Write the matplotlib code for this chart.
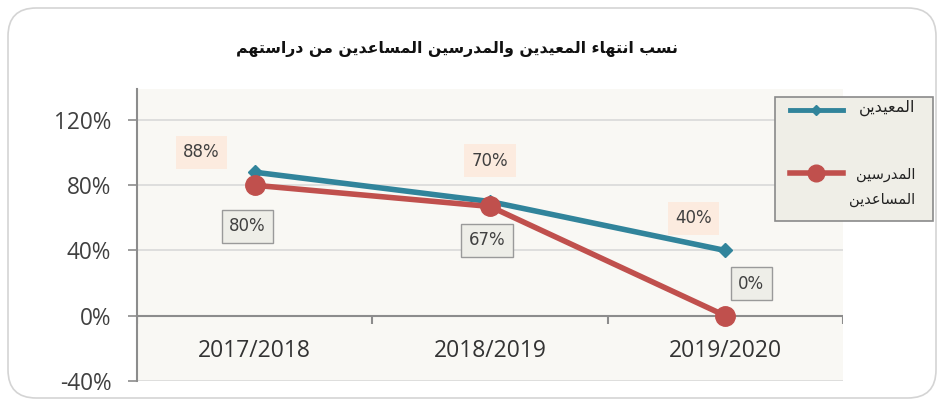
import matplotlib
matplotlib.use("Agg")
import matplotlib.pyplot as plt
from matplotlib.patches import FancyBboxPatch, Rectangle
from matplotlib.lines import Line2D

# ---------------- data ----------------
categories = ["2017/2018", "2018/2019", "2019/2020"]
series_names = ["المعيدين", "المدرسين\nالمساعدين"]
demonstrators = [0.88, 0.70, 0.40]
assistant_lecturers = [0.80, 0.67, 0.00]
y_ticks = [-0.4, 0.0, 0.4, 0.8, 1.2]
y_tick_labels = ["-40%", "0%", "40%", "80%", "120%"]
title = "نسب انتهاء المعيدين والمدرسين المساعدين من دراستهم"

# ---------------- simple Arabic shaping (presentation forms) ----------------
FORMS = {  # isolated, final, initial, medial
    "ا": ("\uFE8D", "\uFE8E", None, None),
    "ب": ("\uFE8F", "\uFE90", "\uFE91", "\uFE92"),
    "ت": ("\uFE95", "\uFE96", "\uFE97", "\uFE98"),
    "د": ("\uFEA9", "\uFEAA", None, None),
    "ر": ("\uFEAD", "\uFEAE", None, None),
    "س": ("\uFEB1", "\uFEB2", "\uFEB3", "\uFEB4"),
    "ع": ("\uFEC9", "\uFECA", "\uFECB", "\uFECC"),
    "ل": ("\uFEDD", "\uFEDE", "\uFEDF", "\uFEE0"),
    "م": ("\uFEE1", "\uFEE2", "\uFEE3", "\uFEE4"),
    "ن": ("\uFEE5", "\uFEE6", "\uFEE7", "\uFEE8"),
    "ه": ("\uFEE9", "\uFEEA", "\uFEEB", "\uFEEC"),
    "و": ("\uFEED", "\uFEEE", None, None),
    "ي": ("\uFEF1", "\uFEF2", "\uFEF3", "\uFEF4"),
    "ء": ("\uFE80", None, None, None),
}


def dual(c):
    return c in FORMS and FORMS[c][2] is not None


def joining(c):
    return c in FORMS and FORMS[c][1] is not None


def shape_line(s):
    out = []
    for i, c in enumerate(s):
        if c not in FORMS:
            out.append(c)
            continue
        prev = s[i - 1] if i > 0 else ""
        nxt = s[i + 1] if i + 1 < len(s) else ""
        jp = dual(prev) and joining(c)
        jn = dual(c) and joining(nxt)
        iso, fin, ini, med = FORMS[c]
        if jp and jn:
            out.append(med)
        elif jp:
            out.append(fin)
        elif jn:
            out.append(ini)
        else:
            out.append(iso)
    return "".join(out)[::-1]


def ar(s):
    return "\n".join(shape_line(line) for line in s.split("\n"))


# ---------------- figure ----------------
W, H = 940, 405
fig = plt.figure(figsize=(W / 100, H / 100), dpi=100)
fig.patch.set_facecolor("white")


def fx(px):
    return px / W


def fy(py):
    return 1 - py / H


# outer rounded border
border = FancyBboxPatch((fx(8), fy(398)), fx(928), (398 - 8) / H,
                        boxstyle="round,pad=0,rounding_size=0.03",
                        transform=fig.transFigure, facecolor="white",
                        edgecolor="#d4d4d4", linewidth=1.2, zorder=-5,
                        mutation_aspect=W / H)
fig.patches.append(border)

left, right, top, bottom = 137, 843, 89, 381
ax = fig.add_axes([fx(left), 1 - bottom / H, (right - left) / W, (bottom - top) / H])
ax.set_zorder(2)
ax.set_facecolor("#f9f8f4")
x = list(range(len(categories)))
ax.set_xlim(-0.5, len(categories) - 0.5)
ax.set_ylim(-0.4, 1.39)

# grid
for yt in y_ticks:
    if yt == 0:
        continue
    ax.axhline(yt, color="#d9d9d9", lw=1.2, zorder=1)
ax.axhline(0, color="#8c8c8c", lw=1.5, zorder=2)
ax.vlines([i - 0.5 for i in range(len(categories) + 1)], -0.05, 0,
          color="#8c8c8c", lw=1.5, zorder=2)

for s in ["top", "right", "bottom"]:
    ax.spines[s].set_visible(False)
ax.spines["left"].set_color("#8c8c8c")
ax.spines["left"].set_linewidth(1.5)

ax.set_yticks(y_ticks)
ax.set_yticklabels(y_tick_labels, fontsize=16.3, color="#404040", family="Open Sans")
ax.tick_params(axis="y", length=6.5, width=1.2, color="#8c8c8c", pad=12)
ax.set_xticks([])
for i, c in enumerate(categories):
    ax.text(i, -0.215, c, ha="center", va="center", fontsize=16.5,
            color="#333333", family="Open Sans")

blue = "#31849b"
red = "#c0504d"
ax.plot(x, demonstrators, color=blue, lw=4, marker="D", ms=7, zorder=4)
ax.plot(x, assistant_lecturers, color=red, lw=4, marker="o", ms=14, zorder=5)

blue_offsets = [(-53, 20), (0, 41), (-32, 32)]
red_offsets = [(-7, -41), (-3, -34), (26, 32)]
for i, v in enumerate(demonstrators):
    ax.annotate(f"{round(v * 100)}%", (i, v), xytext=blue_offsets[i],
                textcoords="offset pixels", ha="center", va="center",
                fontsize=12, color="#404040", family="DejaVu Sans",
                bbox=dict(boxstyle="square,pad=0.45", fc="#fcebdf", ec="none"),
                zorder=6)
for i, v in enumerate(assistant_lecturers):
    ax.annotate(f"{round(v * 100)}%", (i, v), xytext=red_offsets[i],
                textcoords="offset pixels", ha="center", va="center",
                fontsize=12, color="#404040", family="DejaVu Sans",
                bbox=dict(boxstyle="square,pad=0.45", fc="#eeeee8", ec="#9a9a9a", lw=1),
                zorder=6)

# title
fig.text(fx(457), fy(49), ar(title), ha="center", va="center", fontsize=11.3,
         fontweight="bold", family="DejaVu Sans", color="#111111")

# legend (drawn manually)
leg = Rectangle((fx(775), fy(221)), fx(933 - 775), (221 - 97) / H,
                transform=fig.transFigure, facecolor="#efeee7",
                edgecolor="#8a8a8a", linewidth=1.2, zorder=10)
fig.patches.append(leg)
fig.lines.append(Line2D([fx(790), fx(843)], [fy(110), fy(110)], color=blue, lw=3.5,
                        transform=fig.transFigure, zorder=11))
fig.lines.append(Line2D([fx(816)], [fy(110)], color=blue, marker="D", ms=5,
                        transform=fig.transFigure, zorder=12))
fig.lines.append(Line2D([fx(790), fx(843)], [fy(173), fy(173)], color=red, lw=4,
                        transform=fig.transFigure, zorder=11))
fig.lines.append(Line2D([fx(816)], [fy(173)], color=red, marker="o", ms=12,
                        transform=fig.transFigure, zorder=12))
fig.text(fx(915), fy(108), ar(series_names[0]), ha="right", va="center",
         fontsize=11.5, family="DejaVu Sans", color="#222222", zorder=12)
fig.text(fx(915), fy(187), ar(series_names[1]), ha="right", va="center",
         fontsize=10.5, family="DejaVu Sans", color="#222222", zorder=12,
         linespacing=1.8, multialignment="right")

fig.savefig("out.png", dpi=100, facecolor="white")
